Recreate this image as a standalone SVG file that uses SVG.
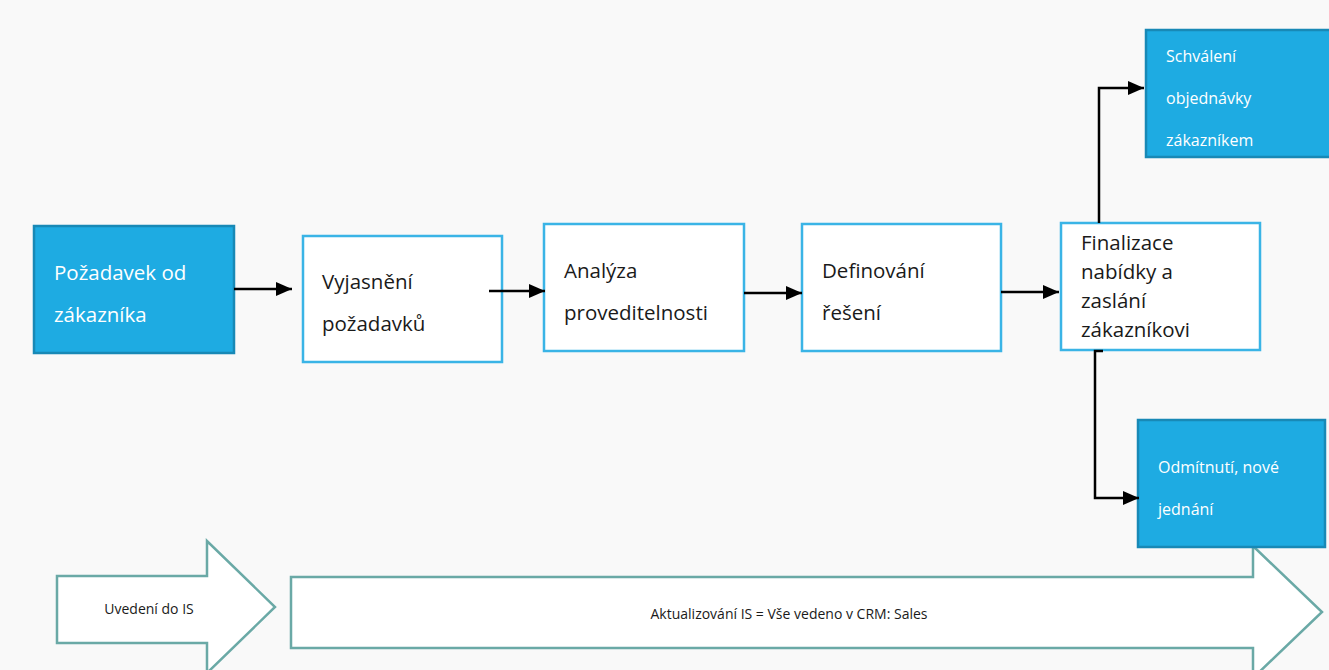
<svg xmlns="http://www.w3.org/2000/svg" width="1329" height="670" viewBox="0 0 1329 670">
<defs>
<marker id="ah" markerWidth="16" markerHeight="14" refX="16" refY="7" orient="auto" markerUnits="userSpaceOnUse">
<path d="M0,0 L16,7 L0,14 Z" fill="#000"/>
</marker>
<style>
.dark{fill:#1eabe2;stroke:#1889b6;stroke-width:2.5}
.light{fill:#fff;stroke:#3ab4e6;stroke-width:2.5}
.big{fill:#fff;stroke:#6aa9a6;stroke-width:2.5}
.wt{font-family:"Open Sans",sans-serif;fill:#fff}
.bt{font-family:"Open Sans",sans-serif;fill:#1a1a1a}
.conn{fill:none;stroke:#000;stroke-width:2.5}
.st{font-family:"Open Sans",sans-serif;fill:#1a1a1a;font-size:14px}
</style>
</defs>
<rect width="1329" height="670" fill="#f9f9f9"/>
<g id="arrow-uvedeni">
<path class="big" d="M57,576 L207,576 L207,541 L275,607 L207,673 L207,643 L57,643 Z"/>
<text class="st" x="149" y="614" text-anchor="middle">Uvedení do IS</text>
</g>
<g id="arrow-aktualizovani">
<path class="big" d="M291,577 L1253,577 L1253,546 L1322,612 L1253,678 L1253,648 L291,648 Z"/>
<text class="st" x="789" y="619" text-anchor="middle">Aktualizování IS = Vše vedeno v CRM: Sales</text>
</g>
<g id="n1">
<rect class="dark" x="34" y="226" width="200" height="127"/>
<text class="wt" font-size="20.5"><tspan x="54" y="280">Požadavek od</tspan><tspan x="54" y="322">zákazníka</tspan></text>
</g>
<g id="n2">
<rect class="light" x="303" y="236" width="199" height="126"/>
<text class="bt" font-size="20.5"><tspan x="322" y="289">Vyjasnění</tspan><tspan x="322" y="331">požadavků</tspan></text>
</g>
<g id="n3">
<rect class="light" x="544" y="224" width="200" height="127"/>
<text class="bt" font-size="20.5"><tspan x="564" y="278">Analýza</tspan><tspan x="564" y="320">proveditelnosti</tspan></text>
</g>
<g id="n4">
<rect class="light" x="802" y="224" width="199" height="127"/>
<text class="bt" font-size="20.5"><tspan x="822" y="278">Definování</tspan><tspan x="822" y="320">řešení</tspan></text>
</g>
<g id="n5">
<rect class="light" x="1061" y="223" width="199" height="127"/>
<text class="bt" font-size="20.5"><tspan x="1081" y="250">Finalizace</tspan><tspan x="1081" y="279">nabídky a</tspan><tspan x="1081" y="308">zaslání</tspan><tspan x="1081" y="337">zákazníkovi</tspan></text>
</g>
<g id="n6">
<rect class="dark" x="1146" y="30" width="190" height="127"/>
<text class="wt" font-size="16"><tspan x="1166" y="62">Schválení</tspan><tspan x="1166" y="104">objednávky</tspan><tspan x="1166" y="146">zákazníkem</tspan></text>
</g>
<g id="n7">
<rect class="dark" x="1138" y="420" width="187" height="127"/>
<text class="wt" font-size="16"><tspan x="1158" y="473">Odmítnutí, nové</tspan><tspan x="1158" y="515">jednání</tspan></text>
</g>
<g id="connectors">
<path class="conn" marker-end="url(#ah)" d="M234,289 L292,289"/>
<path class="conn" marker-end="url(#ah)" d="M489,291 L545,291"/>
<path class="conn" marker-end="url(#ah)" d="M744,293 L802,293"/>
<path class="conn" marker-end="url(#ah)" d="M1001,292 L1059,292"/>
<path class="conn" marker-end="url(#ah)" d="M1099,223 L1099,88 L1144,88"/>
<path class="conn" marker-end="url(#ah)" d="M1103,351 L1095,351 L1095,498 L1139,498"/>
</g>
</svg>
